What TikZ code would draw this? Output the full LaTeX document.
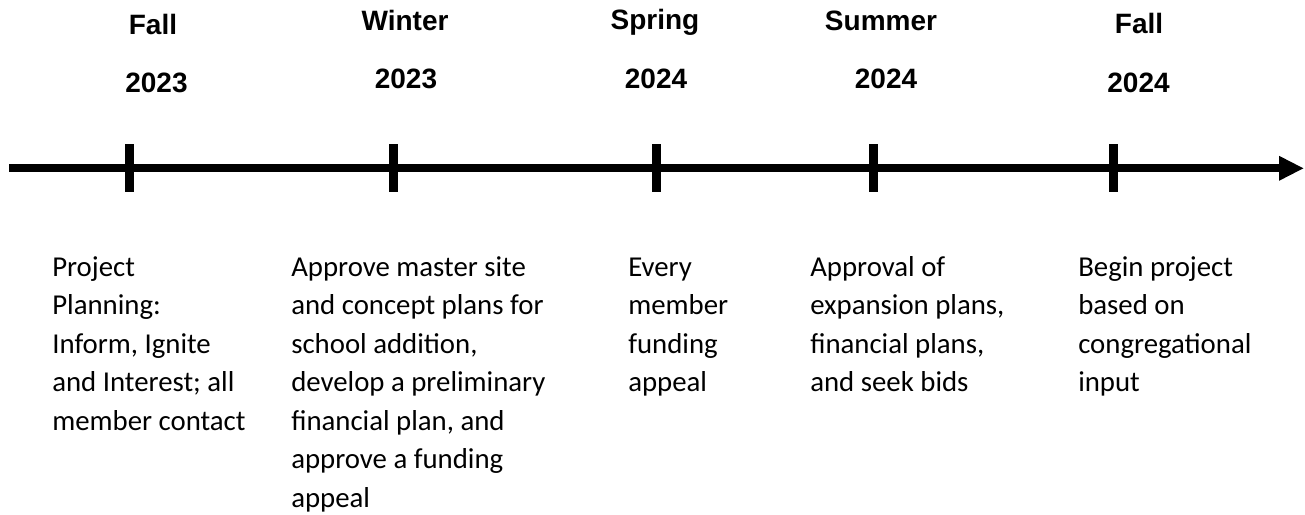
\documentclass[tikz,border=0pt]{standalone}
\usepackage{fontspec}
\setmainfont{Carlito}
\newfontfamily\hdfont{Liberation Sans}
\usetikzlibrary{arrows.meta}
\newcommand{\colbox}[1]{\parbox[t]{195pt}{\raggedright\fontsize{21.6pt}{28.9pt}\selectfont #1}}
\begin{document}
\begin{tikzpicture}[x=0.75pt,y=-0.75pt,
  hd/.style={anchor=base, inner sep=0pt, font=\hdfont\bfseries\fontsize{21pt}{25pt}\selectfont},
  body/.style={anchor=base west, inner sep=0pt},
  axis/.style={line width=6pt, -{Triangle[length=18.75pt,width=17.25pt]}},
  tickmark/.style={line width=6.75pt}]
\useasboundingbox (0,0) rectangle (1305,514);
% axis
\coordinate (axstart) at (9,168.3);
\coordinate (axend) at (1304,168.3);
\draw[axis] (axstart) -- (axend);
% ticks
\foreach \n/\x in {k1/129,k2/393,k3/656,k4/873,k5/1113}{
  \coordinate (\n) at (\x,168.3);
  \draw[tickmark] ([yshift=18pt]\n) -- ([yshift=-18pt]\n);
}
% headers
\node[hd] (s1) at (153,34) {Fall};
\node[hd] (y1) at (156.5,92) {2023};
\node[hd] (s2) at (405,30) {Winter};
\node[hd] (y2) at (406,88) {2023};
\node[hd] (s3) at (655,29) {Spring};
\node[hd] (y3) at (656,88) {2024};
\node[hd] (s4) at (881,31) {Summer};
\node[hd] (y4) at (886,88) {2024};
\node[hd] (s5) at (1139,33) {Fall};
\node[hd] (y5) at (1138.5,92) {2024};
% descriptions
\node[body] (d1) at (52,276) {\colbox{Project\\Planning:\\Inform, Ignite\\and Interest; all\\member contact}};
\node[body] (d2) at (291,276) {\colbox{Approve master site\\and concept plans for\\school addition,\\develop a preliminary\\financial plan, and\\approve a funding\\appeal}};
\node[body] (d3) at (628,276) {\colbox{Every\\member\\funding\\appeal}};
\node[body] (d4) at (810,276) {\colbox{Approval of\\expansion plans,\\financial plans,\\and seek bids}};
\node[body] (d5) at (1078,276) {\colbox{Begin project\\based on\\congregational\\input}};
\end{tikzpicture}
\end{document}
